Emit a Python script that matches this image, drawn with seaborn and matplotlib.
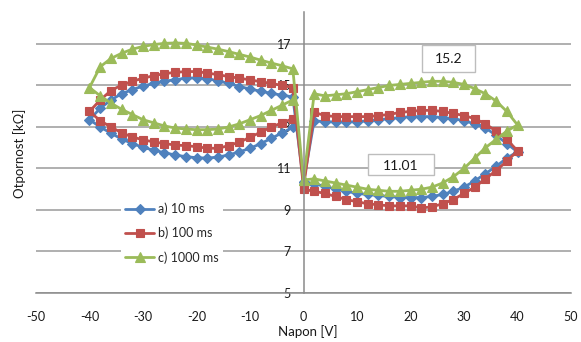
import matplotlib
matplotlib.use("Agg")
import matplotlib.pyplot as plt
import seaborn as sns
import pandas as pd
from matplotlib.patches import Rectangle

# ---------------- data ----------------
# voltage sweep branches [V]
v_lower_right = [0, 2, 4, 6, 8, 10, 12, 14, 16, 18, 20, 22, 24, 26, 28, 30, 32, 34, 36, 38, 40]
v_upper_right = [38, 36, 34, 32, 30, 28, 26, 24, 22, 20, 18, 16, 14, 12, 10, 8, 6, 4, 2]
v_mid = [0]
v_upper_left = [-2, -4, -6, -8, -10, -12, -14, -16, -18, -20, -22, -24, -26, -28, -30, -32, -34, -36, -38, -40]
v_lower_left = [-38, -36, -34, -32, -30, -28, -26, -24, -22, -20, -18, -16, -14, -12, -10, -8, -6, -4, -2]

# a) 10 ms  [kOhm]
a_lower_right = [10.35, 10.25, 10.15, 10.0, 9.9, 9.8, 9.75, 9.7, 9.65, 9.6, 9.6, 9.6, 9.65, 9.75, 9.9, 10.1, 10.4, 10.75, 11.1, 11.5, 11.8]
a_upper_right = [12.2, 12.6, 12.95, 13.15, 13.3, 13.4, 13.45, 13.5, 13.5, 13.5, 13.45, 13.4, 13.35, 13.3, 13.25, 13.25, 13.25, 13.25, 13.3]
a_mid = [10.35]
a_upper_left = [14.45, 14.53, 14.62, 14.72, 14.83, 14.95, 15.1, 15.22, 15.33, 15.37, 15.35, 15.28, 15.2, 15.1, 14.97, 14.8, 14.6, 14.3, 13.9, 13.35]
a_lower_left = [13.0, 12.7, 12.42, 12.2, 12.02, 11.88, 11.76, 11.65, 11.57, 11.52, 11.5, 11.55, 11.65, 11.8, 11.97, 12.2, 12.45, 12.72, 12.98]

# b) 100 ms
b_lower_right = [10.0, 9.9, 9.8, 9.65, 9.5, 9.4, 9.3, 9.25, 9.2, 9.2, 9.2, 9.1, 9.15, 9.3, 9.5, 9.8, 10.1, 10.5, 10.9, 11.35, 11.85]
b_upper_right = [12.4, 12.8, 13.15, 13.4, 13.55, 13.65, 13.75, 13.8, 13.8, 13.75, 13.7, 13.6, 13.55, 13.5, 13.5, 13.5, 13.5, 13.55, 13.7]
b_mid = [10.1]
b_upper_left = [14.9, 15.0, 15.1, 15.18, 15.27, 15.35, 15.43, 15.52, 15.6, 15.67, 15.67, 15.63, 15.57, 15.47, 15.35, 15.2, 15.02, 14.75, 14.3, 13.75]
b_lower_left = [13.3, 13.0, 12.72, 12.52, 12.38, 12.28, 12.2, 12.13, 12.1, 12.05, 11.98, 11.97, 12.1, 12.27, 12.5, 12.75, 13.0, 13.2, 13.4]

# c) 1000 ms
c_lower_right = [10.45, 10.5, 10.4, 10.3, 10.2, 10.1, 10.0, 9.95, 9.9, 9.9, 9.95, 10.0, 10.1, 10.3, 10.6, 11.0, 11.5, 12.0, 12.4, 12.8, 13.1]
c_upper_right = [13.75, 14.25, 14.6, 14.85, 15.05, 15.15, 15.2, 15.2, 15.15, 15.1, 15.05, 15.0, 14.9, 14.8, 14.7, 14.6, 14.55, 14.5, 14.6]
c_mid = [10.45]
c_upper_left = [15.8, 15.95, 16.08, 16.22, 16.37, 16.5, 16.63, 16.75, 16.85, 16.95, 17.03, 17.05, 17.03, 16.97, 16.88, 16.75, 16.55, 16.3, 15.9, 14.9]
c_lower_left = [14.5, 14.15, 13.85, 13.6, 13.35, 13.2, 13.05, 12.95, 12.9, 12.87, 12.87, 12.9, 13.0, 13.15, 13.35, 13.55, 13.8, 14.05, 14.3]

series_names = ["a) 10 ms", "b) 100 ms", "c) 1000 ms"]
x_ticks = [-50, -40, -30, -20, -10, 0, 10, 20, 30, 40, 50]
y_ticks = [5, 7, 9, 11, 13, 15, 17]
note_high = "15.2"
note_low = "11.01"

# ---------------- assemble ----------------
volts = v_lower_right + v_upper_right + v_mid + v_upper_left + v_lower_left
frames = []
for name, parts in zip(series_names, [
        (a_lower_right, a_upper_right, a_mid, a_upper_left, a_lower_left),
        (b_lower_right, b_upper_right, b_mid, b_upper_left, b_lower_left),
        (c_lower_right, c_upper_right, c_mid, c_upper_left, c_lower_left)]):
    vals = []
    for p in parts:
        vals += p
    frames.append(pd.DataFrame({"Napon": volts, "Otpornost": vals, "serija": name, "order": range(len(vals))}))
df = pd.concat(frames, ignore_index=True)

# ---------------- style ----------------
sns.set_style("white")
plt.rcParams["font.family"] = ["Lato", "DejaVu Sans"]

colors = {"a) 10 ms": "#4F81BD", "b) 100 ms": "#C0504D", "c) 1000 ms": "#9BBB59"}
markers = {"a) 10 ms": "D", "b) 100 ms": "s", "c) 1000 ms": "^"}
msizes = {"a) 10 ms": 5.0, "b) 100 ms": 5.5, "c) 1000 ms": 7.0}

W, H = 581, 342
fig = plt.figure(figsize=(W / 100, H / 100), dpi=100)
ax = fig.add_axes([36 / W, 1 - 293 / H, (571 - 36) / W, (293 - 12) / H])

for name in series_names:
    sub = df[df["serija"] == name]
    sns.lineplot(data=sub, x="Napon", y="Otpornost", sort=False, estimator=None,
                 ax=ax, color=colors[name], marker=markers[name],
                 markersize=msizes[name], markeredgecolor=colors[name],
                 markeredgewidth=0.8, linewidth=2.0, label=name)

ax.set_xlim(-50, 50)
ax.set_ylim(5, 18.54)
ax.set_xticks(x_ticks)
ax.set_yticks(y_ticks)
ax.set_xticklabels([str(t) for t in x_ticks])
ax.set_yticklabels([str(t) for t in y_ticks])
ax.yaxis.grid(True, color="#9a9a9a", linewidth=1.1)
ax.xaxis.grid(False)
ax.set_axisbelow(True)

for s in ["top", "right"]:
    ax.spines[s].set_visible(False)
ax.spines["left"].set_position(("data", 0))
ax.spines["left"].set_color("#8a8a8a")
ax.spines["bottom"].set_color("#8a8a8a")
ax.spines["left"].set_linewidth(1.1)
ax.spines["bottom"].set_linewidth(1.1)

ax.tick_params(axis="x", direction="out", length=5, width=1, color="#8a8a8a",
               labelsize=9, pad=8, labelcolor="#1a1a1a")
ax.tick_params(axis="y", direction="out", length=4, width=1, color="#8a8a8a",
               labelsize=9, pad=5, labelcolor="#1a1a1a")
ax.set_xlabel("")
ax.set_ylabel("")

fig.text(20 / W, 1 - 153 / H, "Otpornost [kΩ]", rotation=90, ha="center", va="center",
         fontsize=9.5, color="#1a1a1a")
fig.text(308 / W, 1 - 332 / H, "Napon [V]", ha="center", va="center",
         fontsize=9.5, color="#1a1a1a")

# annotation boxes
ax.add_patch(Rectangle((22.2, 15.65), 9.9, 1.3, facecolor="white", edgecolor="#bdbdbd",
                       linewidth=1.0, zorder=5))
ax.text(27.1, 16.28, note_high, ha="center", va="center", fontsize=10, color="#1a1a1a", zorder=6)
ax.add_patch(Rectangle((12.1, 10.69), 12.2, 1.01, facecolor="white", edgecolor="#bdbdbd",
                       linewidth=1.0, zorder=5))
ax.text(18.1, 11.12, note_low, ha="center", va="center", fontsize=10, color="#1a1a1a", zorder=6)

leg = ax.legend(loc="upper left", bbox_to_anchor=(121 / W, 1 - 198 / H),
                bbox_transform=fig.transFigure, frameon=True, fontsize=9,
                handlelength=2.3, handletextpad=0.3, labelspacing=0.95,
                borderpad=0.35, borderaxespad=0)
leg.get_frame().set_facecolor("white")
leg.get_frame().set_edgecolor("none")
leg.get_frame().set_alpha(1)

fig.savefig("out.png", dpi=100)
